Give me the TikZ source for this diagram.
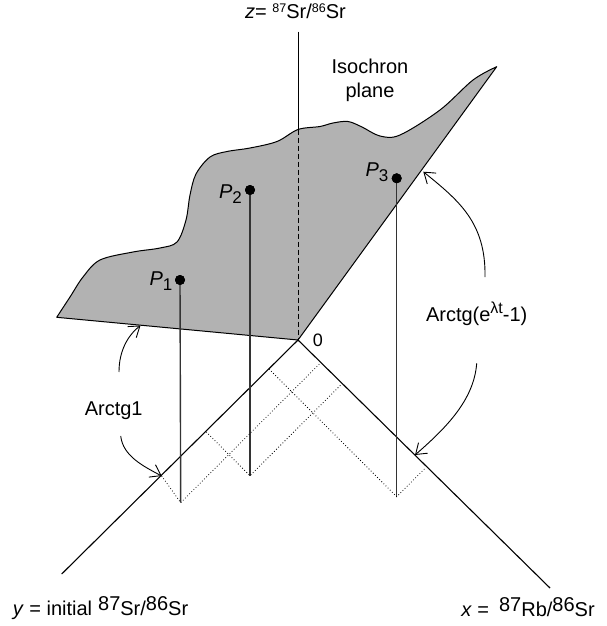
\documentclass[tikz,border=0pt]{standalone}
\usepackage{fontspec}
\setmainfont{Liberation Sans}
\usetikzlibrary{arrows.meta}
\newcommand\supsmall[1]{\raisebox{5.5pt}{\fontsize{12.5}{12.5}\selectfont #1}}
\newcommand\supbig[1]{\raisebox{5pt}{#1}}
\newcommand\psub[1]{\raisebox{-5pt}{\fontsize{17}{17}\selectfont #1}}
\begin{document}
\begin{tikzpicture}[x=1pt,y=-1pt,
  lbl/.style={font=\fontsize{20}{24}\selectfont, inner sep=0pt},
  axisline/.style={line width=1.1pt},
  dropline/.style={line width=1.4pt, draw=black!80},
  projline/.style={line width=0.8pt, dash pattern=on 0.8pt off 2.2pt},
  ptdot/.style={circle, fill=black, inner sep=0pt, minimum size=10pt},
  curvearrow/.style={line width=0.9pt, -{Straight Barb[length=10pt,width=14pt]}},
]
\useasboundingbox (0,0) rectangle (606,626);

% key coordinates
\coordinate (O) at (298,340);
\coordinate (ztop) at (298,31.7);
\coordinate (zcut) at (298,129.5);
\coordinate (yend) at (61.7,574);
\coordinate (xend) at (550,588);
\coordinate (cl) at (56.7,317.3);
\coordinate (cr) at (496.7,66.7);

% isochron plane
\filldraw[fill=black!30, line width=1pt, line join=round]
  (cl) -- (O) -- (cr) -- plot[smooth, tension=0.55] coordinates {
    (496.7,66.7) (473,80) (440,110) (400,135) (380,136) (362,127)
    (348,121.5) (333,123) (320,126.5) (298,129.5) (277,141.5) (250,148)
    (227,151.5) (210,157) (196,174) (190,195) (186,220) (177,242)
    (160,248) (133,252) (100,260) (83,277) (70,297) (56.7,317.3)} -- cycle;

% z axis
\draw[line width=1pt] (ztop) -- (zcut);
\draw[line width=1pt, dash pattern=on 5pt off 3pt] (zcut) -- (O);

% x and y axes
\draw[axisline] (yend) -- (O) -- (xend);

% points, feet, projections
\node[ptdot] (p1) at (180,280) {};
\node[ptdot] (p2) at (250,190) {};
\node[ptdot] (p3) at (396.7,178.3) {};
\coordinate (f1) at (180.7,502.7);
\coordinate (f2) at (250,475.7);
\coordinate (f3) at (396.7,496.7);
\coordinate (q1y) at (161.7,476);
\coordinate (q1x) at (320.7,362.7);
\coordinate (q2y) at (206.2,431.9);
\coordinate (q2x) at (341.9,383.9);
\coordinate (q3y) at (269,369);
\coordinate (q3x) at (425.7,467.7);

\draw[dropline] (p1.center) -- (f1);
\draw[dropline] (p2.center) -- (f2);
\draw[dropline] (p3.center) -- (f3);
\draw[projline] (q1y) -- (f1) -- (q1x);
\draw[projline] (q2y) -- (f2) -- (q2x);
\draw[projline] (q3y) -- (f3) -- (q3x);
\node[ptdot] at (p1) {};
\node[ptdot] at (p2) {};
\node[ptdot] at (p3) {};

% labels
\node[lbl, anchor=base] (zlab) at (295.5,18.3) {\textit{z}= \supsmall{87}Sr/\supsmall{86}Sr};
\node[lbl, anchor=base] (ylab) at (100.5,615) {\textit{y} = initial\hspace{6pt}\supbig{87}Sr/\supbig{86}Sr};
\node[lbl, anchor=base] (xlab) at (528,616) {\textit{x} =\hspace{10pt}\supbig{87}Rb/\supbig{86}Sr};
\node[lbl, align=center] (iso) at (370,80) {Isochron\\plane};
\node[font=\fontsize{18}{18}\selectfont, inner sep=0pt] (zero) at (318,340) {0};
\node[lbl, anchor=base east] (p1lab) at (172.5,285.7) {\textit{P}\psub{1}};
\node[lbl, anchor=base east] (p2lab) at (242,198.3) {\textit{P}\psub{2}};
\node[lbl, anchor=base east] (p3lab) at (388.5,176.7) {\textit{P}\psub{3}};
\node[lbl, anchor=base] (arc1) at (113.7,415) {Arctg1};
\node[lbl, anchor=base] (arc2) at (476.7,321.7) {Arctg(e\raisebox{8pt}{\fontsize{16}{16}\selectfont λt}-1)};

% angle arrows
\coordinate (a1s) at (119,372);
\coordinate (a1t) at (140.5,325.5);
\coordinate (a1u) at (120.7,436);
\coordinate (a1v) at (161.7,476);
\coordinate (a2s) at (485,277);
\coordinate (a2t) at (423.3,171.7);
\coordinate (a2u) at (476.7,363.3);
\coordinate (a2v) at (415,455);
\draw[curvearrow] (a1s) .. controls (119,352) and (127,336) .. (a1t);
\draw[curvearrow] (a1u) .. controls (123,456) and (143,466) .. (a1v);
\draw[curvearrow] (a2s) .. controls (486,222) and (458,200) .. (a2t);
\draw[curvearrow] (a2u) .. controls (474,400) and (446,428) .. (a2v);
\end{tikzpicture}
\end{document}
